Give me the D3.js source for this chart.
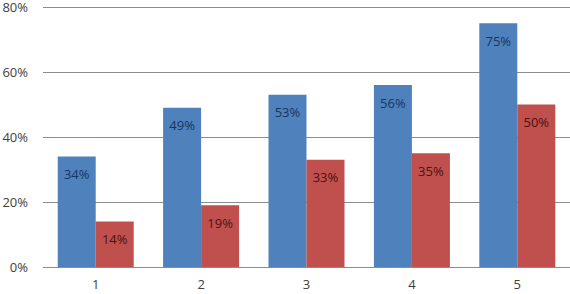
<!DOCTYPE html>
<html lang="en">
<head>
<meta charset="utf-8">
<script src="https://d3js.org/d3.v7.min.js"></script>
<style>
  body { margin: 0; background: #fff; }
  text { font-family: "Open Sans", "Liberation Sans", sans-serif; }
</style>
</head>
<body>
<script>
var categories = ["1", "2", "3", "4", "5"];
var seriesA = [0.34, 0.49, 0.53, 0.56, 0.75];
var seriesB = [0.14, 0.19, 0.33, 0.35, 0.50];
var yTicks = [0, 0.2, 0.4, 0.6, 0.8];

var width = 570, height = 294;
var margin = {top: 7, right: 0, bottom: 27, left: 43};

var svg = d3.select("body").append("svg")
    .attr("width", width).attr("height", height);

var x = d3.scaleBand()
    .domain(categories)
    .range([margin.left, width - margin.right])
    .paddingInner(0.279).paddingOuter(0.1395);

var x1 = d3.scaleBand()
    .domain(["a", "b"])
    .range([0, x.bandwidth()]);

var y = d3.scaleLinear()
    .domain([0, 0.8])
    .range([height - margin.bottom, margin.top]);

var fmt = d3.format(".0%");

// gridlines + y labels
svg.append("g")
    .selectAll("line")
    .data(yTicks)
    .join("line")
    .attr("x1", margin.left).attr("x2", width)
    .attr("y1", function(d) { return Math.round(y(d)) + 0.5; })
    .attr("y2", function(d) { return Math.round(y(d)) + 0.5; })
    .attr("stroke", "#8c8c8c")
    .attr("stroke-width", 1);

svg.append("g")
    .selectAll("text")
    .data(yTicks)
    .join("text")
    .attr("x", 28)
    .attr("y", function(d) { return y(d); })
    .attr("dy", "0.35em")
    .attr("text-anchor", "end")
    .attr("font-size", 13)
    .attr("fill", "#404040")
    .text(fmt);

// x labels
svg.append("g")
    .selectAll("text")
    .data(categories)
    .join("text")
    .attr("x", function(d) { return x(d) + x.bandwidth() / 2; })
    .attr("y", height - 5)
    .attr("text-anchor", "middle")
    .attr("font-size", 13)
    .attr("fill", "#404040")
    .text(function(d) { return d; });

var series = [
  {key: "a", values: seriesA, fill: "#4F81BD", label: "#17365D"},
  {key: "b", values: seriesB, fill: "#C0504D", label: "#4b1010"}
];

series.forEach(function(s) {
  var g = svg.append("g");
  g.selectAll("rect")
    .data(s.values)
    .join("rect")
    .attr("x", function(d, i) { return x(categories[i]) + x1(s.key); })
    .attr("width", x1.bandwidth())
    .attr("y", function(d) { return y(d); })
    .attr("height", function(d) { return y(0) - y(d); })
    .attr("fill", s.fill);
  g.selectAll("text")
    .data(s.values)
    .join("text")
    .attr("x", function(d, i) { return x(categories[i]) + x1(s.key) + x1.bandwidth() / 2; })
    .attr("y", function(d) { return y(d) + 18; })
    .attr("dy", "0.35em")
    .attr("text-anchor", "middle")
    .attr("font-size", 13)
    .attr("fill", s.label)
    .text(fmt);
});
</script>
</body>
</html>
